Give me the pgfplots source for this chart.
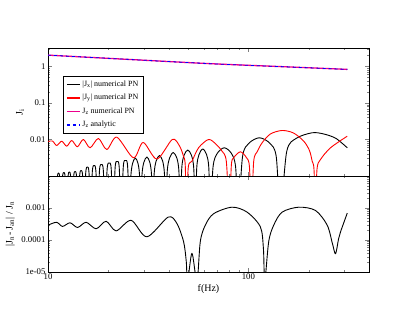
\documentclass[border=0pt]{standalone}
\usepackage{fontspec}
\setmainfont{Liberation Serif}
\usepackage{pgfplots}
\pgfplotsset{compat=1.18}
\pgfplotsset{every axis plot/.append style={line width=0.9bp, line join=round}}

% |Jx| numerical PN
\pgfplotstableread{
f J
10.96 1e-4
11.12 8.5e-4
11.285 1.21e-3
11.45 8.5e-4
11.61 1e-4
11.80 8.8e-4
12.00 1.25e-3
12.19 8.8e-4
12.38 1e-4
12.58 9.1e-4
12.78 1.29e-3
12.98 9.1e-4
13.18 1e-4
13.42 9.4e-4
13.66 1.33e-3
13.89 9.4e-4
14.13 1e-4
14.38 1.0e-3
14.64 1.42e-3
14.89 1.0e-3
15.14 1e-4
15.43 1.24e-3
15.73 1.76e-3
16.02 1.24e-3
16.31 1e-4
16.65 1.37e-3
17.00 1.94e-3
17.34 1.37e-3
17.68 1e-4
18.08 1.46e-3
18.48 2.07e-3
18.88 1.46e-3
19.28 1e-4
19.74 1.60e-3
20.21 2.27e-3
20.67 1.60e-3
21.13 1e-4
21.64 1.77e-3
22.15 2.50e-3
22.66 1.77e-3
23.17 1e-4
23.77 1.88e-3
24.37 2.66e-3
24.96 1.88e-3
25.56 1e-4
25.90 9.6e-4
26.42 2.20e-3
27.28 3.11e-3
28.14 2.20e-3
28.66 9.6e-4
29.00 1e-4
29.43 1.03e-3
30.08 2.35e-3
31.16 3.32e-3
32.23 2.35e-3
32.88 1.03e-3
33.31 1e-4
33.85 1.12e-3
34.65 2.57e-3
36.00 3.64e-3
37.34 2.57e-3
38.14 1.12e-3
38.68 1e-4
39.38 1.36e-3
40.44 3.11e-3
42.20 4.40e-3
43.95 3.11e-3
45.01 1.36e-3
45.71 1e-4
46.50 1.59e-3
47.72 3.65e-3
49.83 5.16e-3
52.03 3.65e-3
53.40 1.59e-3
54.33 1e-4
55.26 1.70e-3
56.72 3.88e-3
59.22 5.49e-3
61.84 3.88e-3
63.46 1.70e-3
64.57 1e-4
66.68 1.83e-3
69.98 4.19e-3
75.86 5.92e-3
82.22 4.19e-3
86.30 1.83e-3
89.13 1e-4
93.54 3.44e-3
100.6 7.87e-3
113.5 1.113e-2
128.1 7.87e-3
137.7 3.44e-3
144.5 1e-4
155.4 4.72e-3
173.6 1.079e-2
208.2 1.526e-2
237.1 1.42e-2
272.9 1.079e-2
311.6 5.92e-3
}\jx

% |Jy| numerical PN
\pgfplotstableread{
f J
10.00 8.82e-3
10.53 9.10e-3
11.05 6.85e-3
11.71 8.98e-3
12.40 6.55e-3
13.14 9.39e-3
14.01 6.31e-3
15.01 1.00e-2
16.22 5.92e-3
17.84 1.065e-2
19.66 5.32e-3
22.05 1.156e-2
26.70 3.15e-3
29.85 8.28e-3
34.95 2.92e-3
41.69 1.00e-2
45.19 6.85e-3
47.32 3.64e-3
48.42 1.94e-3
48.98 1e-4
50.12 1.71e-3
52.30 2.54e-3
56.43 5.92e-3
63.32 1.00e-2
69.18 7.30e-3
73.87 4.78e-3
77.63 2.50e-3
80.35 1e-4
82.22 1.94e-3
84.43 3.15e-3
91.20 4.60e-3
97.72 3.21e-3
101.2 1.82e-3
103.5 1e-4
106.3 2.50e-3
110.9 4.69e-3
117.1 8.12e-3
128.8 1.415e-2
147.4 1.764e-2
167.9 1.507e-2
189.0 8.98e-3
201.8 4.99e-3
208.2 2.54e-3
212.6 1.51e-3
216.3 1e-4
220.0 1.51e-3
229.1 2.83e-3
257.0 5.92e-3
311.5 1.231e-2
}\jy

% Jz
\pgfplotstableread{
f J
10.0 2.04
25.1 1.56
64.6 1.19
158.5 0.97
311.6 0.83
}\jz

% relative error
\pgfplotstableread{
f E
10.00 2.90e-4
11.03 3.58e-4
11.82 2.66e-4
12.88 3.45e-4
14.05 2.46e-4
15.49 3.58e-4
17.38 2.24e-4
19.50 3.85e-4
21.88 1.93e-4
26.00 4.12e-4
31.16 1.26e-4
39.81 5.21e-4
44.00 3.27e-4
47.50 8.87e-5
48.98 2.15e-5
49.72 5e-6
52.30 3.84e-5
55.40 5e-6
57.54 8.87e-5
60.95 2.90e-4
67.08 6.63e-4
82.86 1.06e-3
98.50 7.43e-4
114.8 2.57e-4
118.9 5.29e-5
120.7 5e-6
126.3 8.87e-5
133.8 2.90e-4
147.4 7.43e-4
178.4 1.06e-3
216.3 8.37e-4
247.5 2.90e-4
263.0 7.53e-5
272.3 3.71e-5
281.8 1.07e-4
288.4 1.80e-4
311.6 6.92e-4
}\relerr

\begin{document}
\begin{tikzpicture}
\path[use as bounding box] (-48bp,-49bp) rectangle (367bp,272bp);
\begin{axis}[at={(0,0)}, anchor=south west,
  scale only axis, width=321bp, height=96bp,
  xmode=log, ymode=log,
  xmin=10, xmax=400, ymin=1e-5, ymax=1e-2,
  xtick={10,100},
  minor xtick={20,30,40,50,60,70,80,90,200,300,400},
  ytick={1e-5,1e-4,1e-3},
  minor ytick={2e-5,3e-5,4e-5,5e-5,6e-5,7e-5,8e-5,9e-5,
    2e-4,3e-4,4e-4,5e-4,6e-4,7e-4,8e-4,9e-4,
    2e-3,3e-3,4e-3,5e-3,6e-3,7e-3,8e-3,9e-3},
  xticklabels={10,100},
  yticklabels={1e-05,0.0001,0.001},
  tick align=inside,
  major tick length=4bp, minor tick length=2bp,
  axis line style={line width=0.9bp},
  tick label style={font=\fontsize{8.8}{10}\selectfont},
  xticklabel style={yshift=1.5bp},
  yticklabel style={xshift=1bp},
  label style={font=\fontsize{10}{12}\selectfont},
  xlabel={f(Hz)},
  xlabel style={at={(axis description cs:0.5,-0.177)}, anchor=center},
  ylabel={|J\textsubscript{n}\,-\,J\textsubscript{an}| / J\textsubscript{n}},
  ylabel style={at={(axis description cs:-0.118,0.5)}, anchor=center},
]
\addplot[draw=black, smooth] table[x=f, y=E] {\relerr};
\end{axis}
\begin{axis}[at={(0,96bp)}, anchor=south west,
  scale only axis, width=321bp, height=128bp,
  xmode=log, ymode=log,
  xmin=10, xmax=400, ymin=1e-3, ymax=3.2,
  xtick={10,100},
  minor xtick={20,30,40,50,60,70,80,90,200,300,400},
  ytick={0.01,0.1,1},
  minor ytick={2e-3,3e-3,4e-3,5e-3,6e-3,7e-3,8e-3,9e-3,
    2e-2,3e-2,4e-2,5e-2,6e-2,7e-2,8e-2,9e-2,
    0.2,0.3,0.4,0.5,0.6,0.7,0.8,0.9,2,3},
  xticklabels={},
  yticklabels={0.01,0.1,1},
  tick align=inside,
  major tick length=4bp, minor tick length=2bp,
  axis line style={line width=0.9bp},
  tick label style={font=\fontsize{8.8}{10}\selectfont},
  yticklabel style={xshift=1bp},
  label style={font=\fontsize{10}{12}\selectfont},
  ylabel={J\textsubscript{i}},
  ylabel style={at={(axis description cs:-0.087,0.5)}, anchor=center},
  legend style={at={(axis description cs:0.048,0.78)}, anchor=north west,
    draw=black, line width=0.5bp, fill=white,
    font=\fontsize{8}{9}\selectfont, row sep=2.5bp, inner sep=2.5bp,
    cells={anchor=west}},
  legend image code/.code={\draw[#1, line width=1.3bp] (0bp,0bp) -- (13bp,0bp);},
]
\addplot[color=black, draw=black, smooth] table[x=f, y=J] {\jx};
\addlegendentry{|J\textsubscript{x}| numerical PN}
\addplot[color=red, draw=red, smooth] table[x=f, y=J] {\jy};
\addlegendentry{|J\textsubscript{y}| numerical PN}
\addplot[color=magenta, draw=magenta, smooth, line width=1.3bp] table[x=f, y=J] {\jz};
\addlegendentry{J\textsubscript{z} numerical PN}
\addplot[color=blue, draw=blue, smooth, dashed, line width=0.8bp] table[x=f, y=J] {\jz};
\addlegendentry{J\textsubscript{z} analytic}
\end{axis}
\end{tikzpicture}
\end{document}
